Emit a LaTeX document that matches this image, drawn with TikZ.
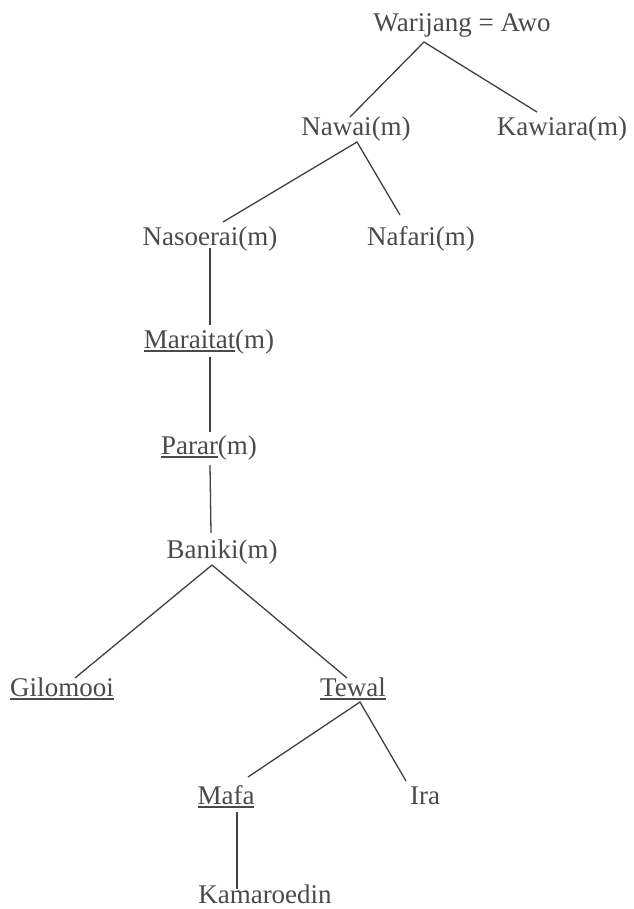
\documentclass[tikz,border=0pt]{standalone}
\usepackage{fontspec}
\setmainfont{Liberation Serif}
\usetikzlibrary{calc}
\newcommand\uln[1]{\leavevmode\vtop{\hbox{#1}\kern2.2pt\hrule height 1.1pt}}
\definecolor{inkt}{HTML}{4A4A4A}
\definecolor{inkl}{HTML}{404040}
\begin{document}
\begin{tikzpicture}[x=1pt,y=-1pt,
  person/.style={anchor=base,inner sep=0pt,text=inkt,font=\fontsize{27}{30}\selectfont},
  link/.style={draw=inkl,line width=1.3pt}]
\useasboundingbox (0,0) rectangle (633,909);
\node[person] (war)    at (462,32)  {Warijang = Awo};
\node[person] (nawai)  at (356,136) {Nawai(m)};
\node[person] (kaw)    at (562,136) {Kawiara(m)};
\node[person] (naso)   at (210,245) {Nasoerai(m)};
\node[person] (nafari) at (421,245) {Nafari(m)};
\node[person] (mara)   at (209,348) {\uln{Maraitat}(m)};
\node[person] (parar)  at (209,454) {\uln{Parar}(m)};
\node[person] (baniki) at (222,558) {Baniki(m)};
\node[person] (gilo)   at (62,696)  {\uln{Gilomooi}};
\node[person] (tewal)  at (353,696) {\uln{Tewal}};
\node[person] (mafa)   at (226,804) {\uln{Mafa}};
\node[person] (ira)    at (425,804) {Ira};
\node[person] (kam)    at (265,903) {Kamaroedin};

\draw[link] ($(nawai.base)+(-6,-19)$) -- ($(war.base)+(-38,10)$) -- ($(kaw.base)+(-25,-24)$);
\draw[link] ($(naso.base)+(13,-23)$) -- ($(nawai.base)+(1,6)$) -- ($(nafari.base)+(-21,-30)$);
\draw[link] ($(naso.base)+(0,3)$) -- ($(mara.base)+(1,-23)$);
\draw[link] ($(mara.base)+(1,9)$) -- ($(parar.base)+(1,-22)$);
\draw[link] ($(parar.base)+(1,11)$) -- ($(baniki.base)+(-11,-25)$);
\draw[link] ($(gilo.base)+(13,-18)$) -- ($(baniki.base)+(-10,7)$) -- ($(tewal.base)+(-6,-18)$);
\draw[link] ($(mafa.base)+(22,-27)$) -- ($(tewal.base)+(7,6)$) -- ($(ira.base)+(-19,-23)$);
\draw[link] ($(mafa.base)+(11,8)$) -- ($(kam.base)+(-28,-14)$);
\end{tikzpicture}
\end{document}
